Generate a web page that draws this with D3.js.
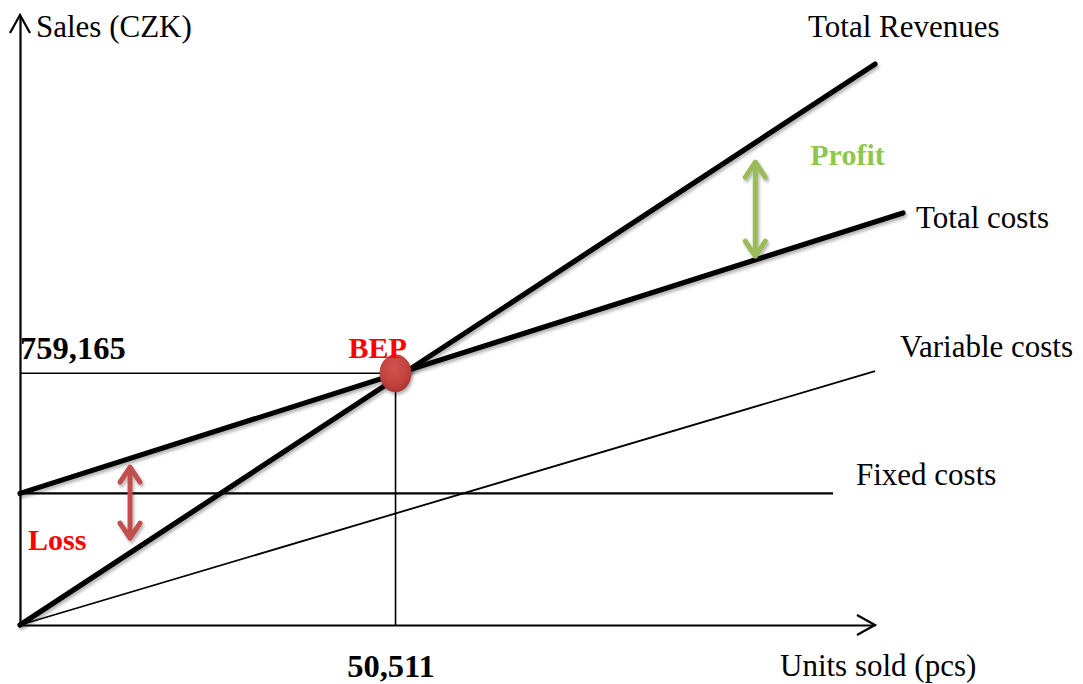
<!DOCTYPE html>
<html>
<head>
<meta charset="utf-8">
<script src="https://cdn.jsdelivr.net/npm/d3@7"></script>
<style>
  html, body { margin: 0; padding: 0; background: #fff; }
  svg { display: block; font-family: "Liberation Serif", "Times New Roman", serif; }
</style>
</head>
<body>
<svg id="chart" width="1083" height="684"></svg>
<script>
// Break-even analysis: units sold vs. sales in CZK
const xMax = 115000;          // units sold shown on the x axis
const yMax = 1840000;         // CZK shown on the y axis

const bepUnits = 50511;       // break-even quantity (pcs)
const bepSales = 759165;      // break-even sales (CZK)

const xTickValues = [bepUnits];
const yTickValues = [bepSales];

// Each line as [units, CZK] end points
const revenueLine      = [[0, 0],      [115000, 1692000]];
const totalCostLine    = [[0, 397000], [118770, 1243000]];
const variableCostLine = [[0, 0],      [115000, 766000]];
const fixedCostLine    = [[0, 397000], [109350, 397000]];

// Arrows marking the profit and loss gaps: [units, CZK from, CZK to]
const profitArrow = [98900, 1113000, 1396000];
const lossArrow   = [14800, 262000, 476000];

const W = 1083, H = 684;
const svg = d3.select("#chart");

const x = d3.scaleLinear().domain([0, xMax]).range([20, 875]);
const y = d3.scaleLinear().domain([0, yMax]).range([625, 15]);

const defs = svg.append("defs");
const shadow = defs.append("filter").attr("id", "shadow")
  .attr("x", "-20%").attr("y", "-20%").attr("width", "140%").attr("height", "140%");
shadow.append("feDropShadow").attr("dx", 1.5).attr("dy", 2.5)
  .attr("stdDeviation", 1.6).attr("flood-color", "#000").attr("flood-opacity", 0.3);

const grad = defs.append("radialGradient").attr("id", "bepFill")
  .attr("cx", "45%").attr("cy", "35%").attr("r", "65%");
grad.append("stop").attr("offset", "0%").attr("stop-color", "#d0524e");
grad.append("stop").attr("offset", "70%").attr("stop-color", "#c2423f");
grad.append("stop").attr("offset", "100%").attr("stop-color", "#a83531");

const line = d3.line().x(d => x(d[0])).y(d => y(d[1]));

// Guide lines to the break-even point
svg.append("line")
  .attr("x1", x(0)).attr("x2", x(bepUnits))
  .attr("y1", y(bepSales)).attr("y2", y(bepSales))
  .attr("stroke", "#000").attr("stroke-width", 1.6);
svg.append("line")
  .attr("x1", x(bepUnits)).attr("x2", x(bepUnits))
  .attr("y1", y(bepSales)).attr("y2", y(0))
  .attr("stroke", "#000").attr("stroke-width", 1.6);

// Thin lines: fixed and variable costs
svg.append("path").datum(fixedCostLine).attr("d", line)
  .attr("fill", "none").attr("stroke", "#000").attr("stroke-width", 2.2);
svg.append("path").datum(variableCostLine).attr("d", line)
  .attr("fill", "none").attr("stroke", "#000").attr("stroke-width", 1.8);

// Thick lines: total revenues and total costs
svg.append("path").datum(revenueLine).attr("d", line)
  .attr("fill", "none").attr("stroke", "#000").attr("stroke-width", 5.2)
  .attr("stroke-linecap", "round").attr("filter", "url(#shadow)");
svg.append("path").datum(totalCostLine).attr("d", line)
  .attr("fill", "none").attr("stroke", "#000").attr("stroke-width", 5.2)
  .attr("stroke-linecap", "round").attr("filter", "url(#shadow)");

// Axes
const xAxis = svg.append("g").attr("transform", `translate(0,${y(0)})`)
  .call(d3.axisBottom(x).tickValues(xTickValues).tickSize(0).tickSizeOuter(0)
    .tickFormat(d3.format(",")));
const yAxis = svg.append("g").attr("transform", `translate(${x(0)},0)`)
  .call(d3.axisLeft(y).tickValues(yTickValues).tickSize(0).tickSizeOuter(0)
    .tickFormat(d3.format(",")));

[xAxis, yAxis].forEach(g => {
  g.select(".domain").attr("stroke", "#000").attr("stroke-width", 2.2);
  g.selectAll("text").attr("fill", "#000")
    .style("font-family", "'Liberation Serif', 'Times New Roman', serif")
    .style("font-size", "32.5px").style("font-weight", "bold");
});
xAxis.selectAll("text").attr("y", 0).attr("dy", 0)
  .attr("transform", "translate(-5,52)");
yAxis.selectAll("text").attr("x", 0).attr("dy", 0)
  .attr("text-anchor", "start").attr("transform", "translate(0,-15)");

// Axis arrowheads
svg.append("path")
  .attr("d", `M${x(xMax) - 18},${y(0) - 10} L${x(xMax)},${y(0)} L${x(xMax) - 18},${y(0) + 10}`)
  .attr("fill", "none").attr("stroke", "#000").attr("stroke-width", 2.2);
svg.append("path")
  .attr("d", `M${x(0) - 10},${y(yMax) + 18} L${x(0)},${y(yMax)} L${x(0) + 10},${y(yMax) + 18}`)
  .attr("fill", "none").attr("stroke", "#000").attr("stroke-width", 2.2);

// Double-headed gap arrows
function gapArrow(spec, color) {
  const ax = x(spec[0]), yb = y(spec[1]), yt = y(spec[2]);
  const hw = 10, hh = 15;
  svg.append("path")
    .attr("d", `M${ax},${yt} L${ax},${yb}` +
               `M${ax - hw},${yt + hh} L${ax},${yt} L${ax + hw},${yt + hh}` +
               `M${ax - hw},${yb - hh} L${ax},${yb} L${ax + hw},${yb - hh}`)
    .attr("fill", "none").attr("stroke", color).attr("stroke-width", 5)
    .attr("stroke-linecap", "round").attr("stroke-linejoin", "round")
    .attr("filter", "url(#shadow)");
}
gapArrow(profitArrow, "#9bbb59");
gapArrow(lossArrow, "#c0504d");

// Break-even point
svg.append("ellipse")
  .attr("cx", x(bepUnits)).attr("cy", y(bepSales))
  .attr("rx", 15.5).attr("ry", 18.5)
  .attr("fill", "url(#bepFill)").attr("stroke", "#b03c38").attr("stroke-width", 1)
  .attr("filter", "url(#shadow)");

// Text labels
const serif = "'Liberation Serif', 'Times New Roman', serif";
function label(txt, px, py, opts = {}) {
  svg.append("text").attr("x", px).attr("y", py).text(txt)
    .attr("fill", opts.color || "#000")
    .style("font-family", serif).style("font-size", opts.bold ? "30px" : "31px")
    .style("font-weight", opts.bold ? "bold" : "normal");
}
const endOf = a => [x(a[a.length - 1][0]), y(a[a.length - 1][1])];

label("Sales (CZK)", x(0) + 16, 37);
label("Units sold (pcs)", x(xMax) - 95, 676);

let e = endOf(revenueLine);      label("Total Revenues", e[0] - 67, e[1] - 27);
e = endOf(totalCostLine);        label("Total costs", e[0] + 13, e[1] + 15);
e = endOf(variableCostLine);     label("Variable costs", e[0] + 25, e[1] - 14);
e = endOf(fixedCostLine);        label("Fixed costs", e[0] + 23, e[1] - 8);

label("BEP", x(bepUnits) - 47, y(bepSales) - 15, { color: "#ff0000", bold: true });
label("Profit", x(profitArrow[0]) + 55, 165, { color: "#8fc74e", bold: true });
label("Loss", x(0) + 8, 550, { color: "#ff0000", bold: true });
</script>
</body>
</html>
